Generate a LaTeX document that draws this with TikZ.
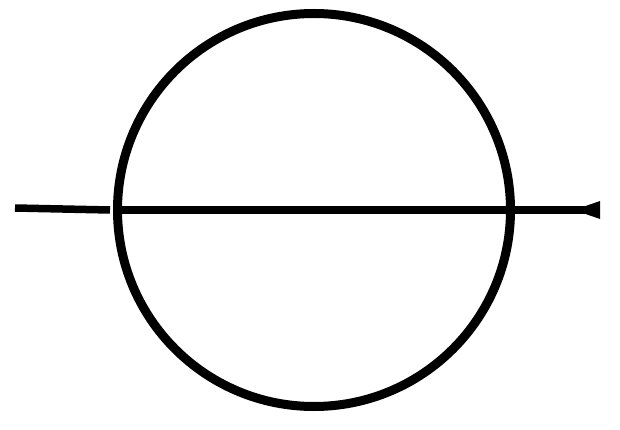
\documentclass[tikz,border=0pt]{standalone}
\usepackage{tikz}
\usetikzlibrary{arrows.meta,positioning}
\tikzstyle{ring} = [circle, draw=black, line width=9pt, minimum size=393pt, inner sep=0pt]
\tikzstyle{axis} = [line width=7.5pt, color=black]
\tikzstyle{arrow} = [axis, -{Triangle[reversed,length=30pt,width=15pt]}]

\begin{document}
\begin{tikzpicture}[x=1pt, y=-1pt]
\useasboundingbox (0,0) rectangle (620,430);
% circle
\node (c) [ring] at (314,210) {};
% ends of the axis
\coordinate (w) at (15,208);
\coordinate (e) at (600,210);

% axis through the circle
\draw[axis] (w) -- ([xshift=-3pt]c.west);
\draw[arrow] (c.west) -- (e);
\end{tikzpicture}
\end{document}
